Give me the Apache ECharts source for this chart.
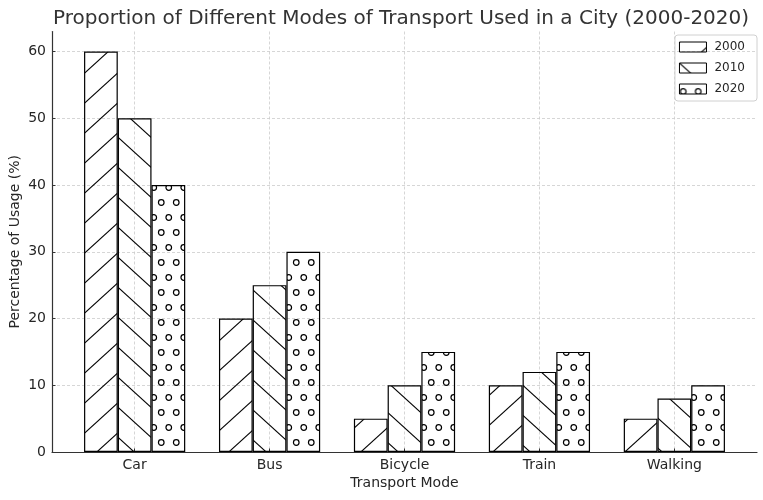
<!DOCTYPE html>
<html><head><meta charset="utf-8">
<script src="https://cdn.jsdelivr.net/npm/echarts@6/dist/echarts.min.js"></script>
<style>html,body{margin:0;padding:0;background:#fff}#c{width:763px;height:500px}</style>
</head><body><div id="c"></div>
<script>
const categories = ['Car', 'Bus', 'Bicycle', 'Train', 'Walking'];
const years = ['2000', '2010', '2020'];
const values2000 = [60, 20, 5, 10, 5];
const values2010 = [50, 25, 10, 12, 8];
const values2020 = [40, 30, 15, 15, 10];
const yTicks = [0, 10, 20, 30, 40, 50, 60];
const xTicks = categories.map((c, i) => i);

function makeTile(w, h, draw) {
  const c = document.createElement('canvas');
  c.width = w; c.height = h;
  const ctx = c.getContext('2d');
  ctx.strokeStyle = '#000';
  ctx.lineWidth = 1.1;
  draw(ctx, w, h);
  return c;
}
const fwdTile = makeTile(33, 30, (ctx, w, h) => {
  for (let k = -1; k <= 1; k++) {
    ctx.beginPath();
    ctx.moveTo(-5, h + 5 * h / w + k * h);
    ctx.lineTo(w + 5, h - (w + 5) * h / w + k * h);
    ctx.stroke();
  }
});
const backTile = makeTile(33, 30, (ctx, w, h) => {
  for (let k = -1; k <= 1; k++) {
    ctx.beginPath();
    ctx.moveTo(-5, -5 * h / w + k * h);
    ctx.lineTo(w + 5, (w + 5) * h / w + k * h);
    ctx.stroke();
  }
});
const circTile = makeTile(15, 30, (ctx, w, h) => {
  ctx.lineWidth = 1.2;
  const centers = [[3.75, 7.5], [11.25, 22.5]];
  for (const [cx, cy] of centers) {
    for (const dx of [-w, 0, w]) for (const dy of [-h, 0, h]) {
      ctx.beginPath();
      ctx.arc(cx + dx, cy + dy, 2.8, 0, Math.PI * 2);
      ctx.stroke();
    }
  }
});
const patterns = [fwdTile, backTile, circTile];
const seriesValues = [values2000, values2010, values2020];

// axes frame: x from -0.6125 to 4.6125 over 705 px
const X_MIN = -0.6125, X_MAX = 4.6125;
const PLOT_L = 52, PLOT_R = 6;
const pxPerUnit = (763 - PLOT_L - PLOT_R) / (X_MAX - X_MIN);
const inset = (0 - X_MIN - 0.5) * pxPerUnit;

const chart = echarts.init(document.getElementById('c'), null, {renderer: 'canvas'});
const textColor = '#262626';
const gridLine = {show: true, lineStyle: {color: '#cccccc', type: [3, 2], width: 0.8}};
const option = {
  animation: false,
  backgroundColor: '#fff',
  title: {
    text: 'Proportion of Different Modes of Transport Used in a City (2000-2020)',
    left: 53, top: 9, padding: 0,
    textStyle: {fontFamily: 'DejaVu Sans', fontSize: 20, fontWeight: 'normal', color: '#333'}
  },
  legend: {
    orient: 'vertical', right: 6, top: 35,
    padding: [6, 12, 6, 4], itemGap: 9,
    itemWidth: 27, itemHeight: 10, icon: 'rect',
    borderColor: '#d0d0d0', borderWidth: 1, borderRadius: 3,
    itemStyle: {borderWidth: 1},
    data: years,
    textStyle: {fontFamily: 'DejaVu Sans', fontSize: 12, color: textColor, padding: [0, 0, 0, 3]}
  },
  grid: [
    {left: PLOT_L, right: PLOT_R, top: 31.5, bottom: 48, containLabel: false, outerBoundsMode: 'none'},
    {left: PLOT_L + inset, right: PLOT_R + inset, top: 31.5, bottom: 48, containLabel: false, outerBoundsMode: 'none'}
  ],
  xAxis: [{
    gridIndex: 0, type: 'value', min: X_MIN, max: X_MAX,
    name: 'Transport Mode', nameLocation: 'middle', nameGap: 24, nameMoveOverlap: false,
    nameTextStyle: {fontFamily: 'DejaVu Sans', fontSize: 14, color: textColor},
    axisLine: {show: true, onZero: false, lineStyle: {color: '#333', width: 1.2}},
    axisTick: {show: true, inside: true, length: 3.5, customValues: xTicks, lineStyle: {color: '#333'}},
    axisLabel: {customValues: xTicks, margin: 6, fontFamily: 'DejaVu Sans', fontSize: 14, color: textColor,
      formatter: v => categories[Math.round(v)]},
    splitLine: gridLine
  }, {
    gridIndex: 1, type: 'category', data: categories, show: false
  }],
  yAxis: [{
    gridIndex: 0, type: 'value', min: 0, max: 63,
    name: 'Percentage of Usage (%)', nameLocation: 'middle', nameGap: 30, nameMoveOverlap: false,
    nameTextStyle: {fontFamily: 'DejaVu Sans', fontSize: 14, color: textColor},
    axisLine: {show: true, onZero: false, lineStyle: {color: '#333', width: 1.2}},
    axisTick: {show: true, inside: true, length: 3.5, customValues: yTicks, lineStyle: {color: '#333'}},
    axisLabel: {customValues: yTicks, margin: 6, fontFamily: 'DejaVu Sans', fontSize: 14, color: textColor},
    splitLine: gridLine
  }, {
    gridIndex: 1, type: 'value', min: 0, max: 63, show: false
  }],
  series: years.map((y, s) => ({
    name: y, type: 'bar', xAxisIndex: 1, yAxisIndex: 1,
    data: seriesValues[s],
    barWidth: '25%', barGap: '0%',
    itemStyle: {color: {image: patterns[s], repeat: 'repeat'}, borderColor: '#000', borderWidth: 1.2},
    emphasis: {disabled: true},
    z: 3
  }))
};
chart.setOption(option);
</script></body></html>
